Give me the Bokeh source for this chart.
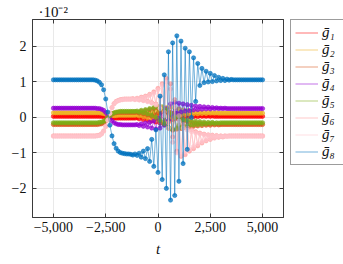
from bokeh.plotting import figure
from bokeh.layouts import row
from bokeh.models import (ColumnDataSource, FixedTicker, Legend, LegendItem,
                          LinearAxis, Range1d)
from bokeh.embed import file_html
from bokeh.resources import INLINE

# ---------------- data (values in units of 10^-2) ----------------
t = [-5000, -4900, -4800, -4700, -4600, -4500, -4400, -4300, -4200, -4100,
     -4000, -3900, -3800, -3700, -3600, -3500, -3400, -3300, -3200, -3100,
     -3000, -2900, -2800, -2700, -2600, -2500, -2400, -2300, -2200, -2100,
     -2000, -1900, -1800, -1700, -1600, -1500, -1400, -1300, -1200, -1100,
     -1000, -900, -800, -700, -600, -500, -400, -300, -200, -100,
     0, 100, 200, 300, 400, 500, 600, 700, 800, 900,
     1000, 1100, 1200, 1300, 1400, 1500, 1600, 1700, 1800, 1900,
     2000, 2100, 2200, 2300, 2400, 2500, 2600, 2700, 2800, 2900,
     3000, 3100, 3200, 3300, 3400, 3500, 3600, 3700, 3800, 3900,
     4000, 4100, 4200, 4300, 4400, 4500, 4600, 4700, 4800, 4900,
     5000]

g1 = [0.03, 0.03, 0.03, 0.03, 0.03, 0.03, 0.03, 0.03, 0.03, 0.03,
      0.03, 0.03, 0.03, 0.03, 0.03, 0.03, 0.03, 0.03, 0.03, 0.03,
      0.03, 0.03, 0.03, 0.03, 0.02, 0.02, 0.01, 0.00, -0.01, -0.02,
      -0.02, -0.02, -0.02, -0.02, -0.02, -0.02, -0.02, -0.02, -0.02, -0.02,
      -0.01, -0.04, 0.01, -0.06, 0.03, -0.08, 0.06, -0.10, 0.09, -0.13,
      0.12, -0.16, 0.15, -0.18, 0.16, -0.12, 0.14, -0.06, 0.12, -0.03,
      0.10, -0.01, 0.08, 0.00, 0.07, 0.01, 0.06, 0.02, 0.05, 0.02,
      0.05, 0.03, 0.04, 0.03, 0.04, 0.03, 0.04, 0.03, 0.03, 0.03,
      0.03, 0.03, 0.03, 0.03, 0.03, 0.03, 0.03, 0.03, 0.03, 0.03,
      0.03, 0.03, 0.03, 0.03, 0.03, 0.03, 0.03, 0.03, 0.03, 0.03,
      0.03]

g2 = [0.13, 0.13, 0.13, 0.13, 0.13, 0.13, 0.13, 0.13, 0.13, 0.13,
      0.13, 0.13, 0.13, 0.13, 0.13, 0.13, 0.13, 0.13, 0.13, 0.13,
      0.13, 0.13, 0.13, 0.12, 0.11, 0.09, 0.06, 0.05, 0.05, 0.05,
      0.05, 0.06, 0.06, 0.06, 0.06, 0.06, 0.06, 0.06, 0.06, 0.06,
      0.07, 0.04, 0.09, 0.02, 0.11, 0.00, 0.14, -0.03, 0.18, -0.07,
      0.22, -0.12, 0.25, -0.15, 0.28, -0.10, 0.30, 0.00, 0.26, 0.05,
      0.24, 0.07, 0.21, 0.08, 0.19, 0.09, 0.17, 0.10, 0.16, 0.10,
      0.15, 0.11, 0.14, 0.11, 0.14, 0.12, 0.13, 0.12, 0.13, 0.12,
      0.12, 0.12, 0.12, 0.12, 0.12, 0.12, 0.12, 0.12, 0.12, 0.12,
      0.12, 0.12, 0.12, 0.12, 0.12, 0.12, 0.12, 0.12, 0.12, 0.12,
      0.12]

g3 = [-0.20, -0.20, -0.20, -0.20, -0.20, -0.20, -0.20, -0.20, -0.20, -0.20,
      -0.20, -0.20, -0.20, -0.20, -0.20, -0.20, -0.20, -0.20, -0.20, -0.20,
      -0.20, -0.20, -0.19, -0.18, -0.15, -0.10, -0.03, 0.04, 0.09, 0.12,
      0.13, 0.14, 0.14, 0.14, 0.14, 0.14, 0.14, 0.14, 0.14, 0.14,
      0.15, 0.12, 0.17, 0.10, 0.19, 0.07, 0.22, 0.03, 0.25, -0.03,
      0.26, -0.10, 0.25, -0.20, 0.18, -0.30, 0.08, -0.36, -0.02, -0.33,
      -0.06, -0.31, -0.10, -0.29, -0.12, -0.27, -0.14, -0.25, -0.15, -0.24,
      -0.16, -0.23, -0.17, -0.22, -0.18, -0.22, -0.18, -0.21, -0.19, -0.21,
      -0.20, -0.20, -0.20, -0.20, -0.20, -0.20, -0.20, -0.20, -0.20, -0.20,
      -0.20, -0.20, -0.20, -0.20, -0.20, -0.20, -0.20, -0.20, -0.20, -0.20,
      -0.20]

g4 = [0.26, 0.26, 0.26, 0.26, 0.26, 0.26, 0.26, 0.26, 0.26, 0.26,
      0.26, 0.26, 0.26, 0.26, 0.26, 0.26, 0.26, 0.26, 0.26, 0.26,
      0.26, 0.25, 0.25, 0.23, 0.20, 0.14, 0.05, -0.03, -0.10, -0.15,
      -0.18, -0.20, -0.20, -0.21, -0.21, -0.21, -0.21, -0.21, -0.21, -0.21,
      -0.20, -0.23, -0.18, -0.25, -0.16, -0.27, -0.14, -0.30, -0.10, -0.33,
      -0.02, -0.30, 0.10, -0.22, 0.25, -0.08, 0.38, 0.05, 0.42, 0.12,
      0.40, 0.15, 0.38, 0.18, 0.36, 0.19, 0.34, 0.21, 0.32, 0.22,
      0.31, 0.23, 0.30, 0.24, 0.29, 0.24, 0.28, 0.25, 0.27, 0.25,
      0.26, 0.25, 0.26, 0.25, 0.25, 0.25, 0.25, 0.25, 0.25, 0.25,
      0.25, 0.25, 0.25, 0.25, 0.25, 0.25, 0.25, 0.25, 0.25, 0.25,
      0.25]

g5 = [-0.15, -0.15, -0.15, -0.15, -0.15, -0.15, -0.15, -0.15, -0.15, -0.15,
      -0.15, -0.15, -0.15, -0.15, -0.15, -0.15, -0.15, -0.15, -0.15, -0.15,
      -0.15, -0.15, -0.14, -0.13, -0.11, -0.07, -0.01, 0.05, 0.10, 0.13,
      0.15, 0.16, 0.17, 0.17, 0.17, 0.17, 0.17, 0.17, 0.17, 0.17,
      0.18, 0.15, 0.20, 0.13, 0.22, 0.10, 0.25, 0.06, 0.28, 0.00,
      0.30, -0.08, 0.30, -0.18, 0.22, -0.28, 0.12, -0.34, 0.02, -0.30,
      -0.02, -0.28, -0.06, -0.25, -0.08, -0.23, -0.10, -0.21, -0.11, -0.20,
      -0.12, -0.19, -0.13, -0.18, -0.14, -0.17, -0.14, -0.17, -0.15, -0.16,
      -0.15, -0.15, -0.15, -0.15, -0.15, -0.15, -0.15, -0.15, -0.15, -0.15,
      -0.15, -0.15, -0.15, -0.15, -0.15, -0.15, -0.15, -0.15, -0.15, -0.15,
      -0.15]

g6 = [-0.52, -0.52, -0.52, -0.52, -0.52, -0.52, -0.52, -0.52, -0.52, -0.52,
      -0.52, -0.52, -0.52, -0.52, -0.52, -0.52, -0.52, -0.52, -0.52, -0.52,
      -0.52, -0.51, -0.50, -0.46, -0.38, -0.25, -0.07, 0.12, 0.28, 0.39,
      0.45, 0.48, 0.50, 0.51, 0.52, 0.52, 0.52, 0.52, 0.53, 0.51,
      0.54, 0.50, 0.57, 0.48, 0.60, 0.46, 0.65, 0.42, 0.72, 0.38,
      0.82, 0.30, 0.95, 0.15, 1.10, -0.15, 0.95, -0.55, 0.50, -0.95,
      0.05, -1.10, -0.20, -1.05, -0.30, -0.95, -0.35, -0.88, -0.40, -0.80,
      -0.44, -0.72, -0.47, -0.66, -0.49, -0.62, -0.50, -0.58, -0.51, -0.56,
      -0.52, -0.55, -0.52, -0.53, -0.52, -0.52, -0.52, -0.52, -0.52, -0.52,
      -0.52, -0.52, -0.52, -0.52, -0.52, -0.52, -0.52, -0.52, -0.52, -0.52,
      -0.52]

g7 = [-0.53, -0.53, -0.53, -0.53, -0.53, -0.53, -0.53, -0.53, -0.53, -0.53,
      -0.53, -0.53, -0.53, -0.53, -0.53, -0.53, -0.53, -0.53, -0.53, -0.53,
      -0.53, -0.52, -0.51, -0.47, -0.39, -0.26, -0.08, 0.11, 0.27, 0.38,
      0.44, 0.47, 0.49, 0.50, 0.51, 0.51, 0.51, 0.51, 0.52, 0.50,
      0.52, 0.49, 0.55, 0.47, 0.58, 0.44, 0.62, 0.40, 0.68, 0.35,
      0.78, 0.25, 0.90, 0.05, 1.00, -0.30, 0.80, -0.70, 0.30, -1.00,
      -0.10, -1.05, -0.30, -0.98, -0.36, -0.90, -0.40, -0.82, -0.44, -0.75,
      -0.47, -0.68, -0.49, -0.63, -0.50, -0.60, -0.51, -0.57, -0.52, -0.55,
      -0.53, -0.54, -0.53, -0.53, -0.53, -0.53, -0.53, -0.53, -0.53, -0.53,
      -0.53, -0.53, -0.53, -0.53, -0.53, -0.53, -0.53, -0.53, -0.53, -0.53,
      -0.53]

g8 = [1.06, 1.06, 1.06, 1.06, 1.06, 1.06, 1.06, 1.06, 1.06, 1.06,
      1.06, 1.06, 1.06, 1.06, 1.06, 1.06, 1.06, 1.06, 1.06, 1.06,
      1.05, 1.03, 0.99, 0.92, 0.78, 0.52, 0.15, -0.22, -0.52, -0.74,
      -0.87, -0.95, -0.99, -1.01, -1.02, -1.03, -1.03, -1.04, -1.06, -1.03,
      -1.07, -1.01, -1.12, -0.95, -1.16, -0.88, -1.24, -0.62, -1.38, -0.35,
      -1.55, 0.60, -1.75, 1.20, -2.00, 1.85, -2.33, 2.10, -2.20, 2.30,
      -1.80, 2.15, -1.30, 1.95, -0.90, 1.85, 0.00, 1.68, 0.45, 1.52,
      0.90, 1.38, 0.98, 1.30, 1.00, 1.24, 1.01, 1.18, 1.03, 1.13,
      1.04, 1.10, 1.04, 1.08, 1.05, 1.07, 1.06, 1.06, 1.06, 1.06,
      1.06, 1.06, 1.06, 1.06, 1.06, 1.06, 1.06, 1.06, 1.06, 1.06,
      1.06]

series_names = ["g1", "g2", "g3", "g4", "g5", "g6", "g7", "g8"]
series_labels = ["g\u0304\u2081", "g\u0304\u2082", "g\u0304\u2083", "g\u0304\u2084",
                 "g\u0304\u2085", "g\u0304\u2086", "g\u0304\u2087", "g\u0304\u2088"]
colors = ["#ff0000", "#edb120", "#d95319", "#9400d3",
          "#7cad16", "#ff9c9c", "#ffc4cc", "#0072bd"]

x_ticks = [-5000, -2500, 0, 2500, 5000]
x_tick_labels = ["\u22125,000", "\u22122,500", "0", "2,500", "5,000"]
y_ticks = [-2, -1, 0, 1, 2]
y_tick_labels = ["\u22122", "\u22121", "0", "1", "2"]
scale_label = "\u00b710\u207b\u00b2"
x_label = "t"

source = ColumnDataSource(dict(t=t, g1=g1, g2=g2, g3=g3, g4=g4,
                               g5=g5, g6=g6, g7=g7, g8=g8))

FONT = "Liberation Serif"
AXC = "#3a3a3a"

p = figure(output_backend="svg", toolbar_location=None,
           x_range=Range1d(-6000, 6000), y_range=Range1d(-2.82, 2.76),
           frame_width=251, frame_height=198,
           min_border_left=32, min_border_right=5,
           min_border_top=19, min_border_bottom=45)
p.background_fill_color = "white"
p.border_fill_color = "white"
p.outline_line_color = AXC
p.outline_line_width = 1

p.title.text = scale_label
p.title.text_font = FONT
p.title.text_font_size = "15px"
p.title.text_font_style = "normal"
p.title.text_color = "#111111"
p.title.align = "left"
p.title.offset = 6
p.title.standoff = 0

for ax in (p.xaxis[0], p.yaxis[0]):
    ax.axis_line_color = AXC
    ax.major_tick_line_color = AXC
    ax.major_tick_in = 4
    ax.major_tick_out = 0
    ax.minor_tick_line_color = None
    ax.major_label_text_font = FONT
    ax.major_label_text_font_size = "14px"
    ax.major_label_text_color = "#111111"
p.xaxis[0].ticker = FixedTicker(ticks=x_ticks)
p.yaxis[0].ticker = FixedTicker(ticks=y_ticks)
p.xaxis[0].major_label_overrides = dict(zip(x_ticks, x_tick_labels))
p.yaxis[0].major_label_overrides = dict(zip(y_ticks, y_tick_labels))
p.xaxis[0].major_label_standoff = 4
p.yaxis[0].major_label_standoff = 6
p.xaxis[0].axis_label = x_label
p.xaxis[0].axis_label_text_font = FONT
p.xaxis[0].axis_label_text_font_style = "italic"
p.xaxis[0].axis_label_text_font_size = "15px"
p.xaxis[0].axis_label_standoff = 6
p.xaxis[0].axis_label_text_color = "#111111"

# mirrored inward ticks on top and right (no labels drawn)
top_ax = LinearAxis(ticker=FixedTicker(ticks=x_ticks), major_tick_in=4, major_tick_out=0,
                    minor_tick_line_color=None, major_label_text_font_size="1px",
                    major_label_text_color=None, major_label_standoff=0,
                    axis_line_color=AXC, major_tick_line_color=AXC)
right_ax = LinearAxis(ticker=FixedTicker(ticks=y_ticks), major_tick_in=4, major_tick_out=0,
                      minor_tick_line_color=None, major_label_text_font_size="1px",
                      major_label_text_color=None, major_label_standoff=0,
                      axis_line_color=AXC, major_tick_line_color=AXC)
p.add_layout(top_ax, "above")
p.add_layout(right_ax, "right")

p.xgrid.ticker = FixedTicker(ticks=x_ticks)
p.ygrid.ticker = FixedTicker(ticks=y_ticks)
p.grid.grid_line_color = "#e9e9e9"
p.grid.grid_line_width = 1

for name, col in zip(series_names, colors):
    p.line(x="t", y=name, source=source, line_color=col,
           line_width=1.0, line_alpha=0.55)
    p.scatter(x="t", y=name, source=source, marker="circle", size=4.2,
              fill_color=col, fill_alpha=0.75, line_color=col,
              line_alpha=0.95, line_width=0.6)

# legend panel to the right of the axes (a bare figure holding only the legend)
lp = figure(width=343 - 288, height=262, output_backend="svg", toolbar_location=None,
            x_range=Range1d(1e6, 1e6 + 1), y_range=Range1d(0, 1),
            x_axis_type=None, y_axis_type=None, min_border=0)
lp.outline_line_color = None
lp.grid.visible = False
lp.background_fill_color = "white"
lp.border_fill_color = "white"

items = []
for name, lab, col in zip(series_names, series_labels, colors):
    lr = lp.line(x="t", y=name, source=source, line_color=col,
                 line_width=1.0, line_alpha=0.55)
    items.append(LegendItem(label=lab, renderers=[lr]))

legend = Legend(items=items, location=(2, 52),
                label_text_font=FONT, label_text_font_style="italic",
                label_text_font_size="15px", label_text_color="#111111",
                glyph_width=23, glyph_height=17, label_height=17,
                spacing=0, padding=4, margin=0, label_standoff=4,
                border_line_color=AXC, border_line_width=1,
                background_fill_color="white", background_fill_alpha=1.0)
lp.add_layout(legend, "center")

layout = row(p, lp, spacing=0)
open("out.html", "w").write(file_html(layout, INLINE))
